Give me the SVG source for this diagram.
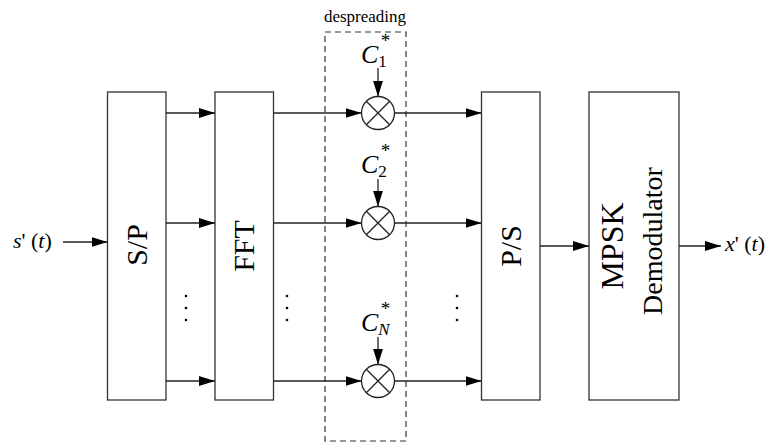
<svg xmlns="http://www.w3.org/2000/svg" width="774" height="445" viewBox="0 0 774 445">
<style>
.box{fill:#fff;stroke:#333;stroke-width:1.3}
.ln{stroke:#222;stroke-width:1.3;fill:none}
.t{font-family:"Liberation Serif","Times New Roman",serif;fill:#000}
.big{font-size:30px}
.c{font-size:26px;font-style:italic}
.sub{font-size:17px}
.ast{font-size:19px;font-style:normal}
.dot{fill:#000}
</style>
<defs>
<marker id="ah" markerWidth="16" markerHeight="10" refX="16" refY="5" orient="auto" markerUnits="userSpaceOnUse">
<path d="M0,0 L16,5 L0,10 Z" fill="#000"/>
</marker>
</defs>
<g id="despreading-box">
<rect x="325" y="32" width="81" height="409" fill="none" stroke="#333" stroke-width="1.2" stroke-dasharray="6,4"/>
<text class="t" x="365" y="22" font-size="17" text-anchor="middle">despreading</text>
</g>
<g id="input-label"><text class="t" x="13" y="248" font-size="22"><tspan font-style="italic">s</tspan>' (<tspan font-style="italic">t</tspan>)</text></g>
<g id="sp"><rect class="box" x="107.5" y="92" width="58.5" height="308"/><text class="t big" transform="translate(147,245) rotate(-90)" text-anchor="middle">S/P</text></g>
<g id="fft"><rect class="box" x="215" y="92" width="58.5" height="308"/><text class="t big" transform="translate(254,246) rotate(-90)" text-anchor="middle">FFT</text></g>
<g id="ps"><rect class="box" x="481.5" y="92" width="58.5" height="308"/><text class="t big" transform="translate(521,246) rotate(-90)" text-anchor="middle">P/S</text></g>
<g id="mpsk"><rect class="box" x="589" y="92" width="90" height="308"/>
<text class="t" font-size="32" transform="translate(623,246) rotate(-90)" text-anchor="middle">MPSK</text>
<text class="t" font-size="28" transform="translate(662,241) rotate(-90)" text-anchor="middle">Demodulator</text></g>
<g id="mult1"><circle cx="378" cy="113" r="16.5" fill="#fff" stroke="#222" stroke-width="1.3"/><path class="ln" d="M366.3,101.3 L389.7,124.7 M389.7,101.3 L366.3,124.7"/></g>
<g id="mult2"><circle cx="378" cy="223" r="16.5" fill="#fff" stroke="#222" stroke-width="1.3"/><path class="ln" d="M366.3,211.3 L389.7,234.7 M389.7,211.3 L366.3,234.7"/></g>
<g id="multN"><circle cx="378" cy="381" r="16.5" fill="#fff" stroke="#222" stroke-width="1.3"/><path class="ln" d="M366.3,369.3 L389.7,392.7 M389.7,369.3 L366.3,392.7"/></g>
<g id="c1"><text class="t c" x="361" y="63">C<tspan class="sub" font-style="normal" dy="4">1</tspan><tspan class="ast" dx="-6" dy="-20">*</tspan></text></g>
<g id="c2"><text class="t c" x="361" y="173">C<tspan class="sub" font-style="normal" dy="4">2</tspan><tspan class="ast" dx="-6" dy="-20">*</tspan></text></g>
<g id="cN"><text class="t c" x="361" y="331">C<tspan class="sub" dy="4">N</tspan><tspan class="ast" dx="-9" dy="-20">*</tspan></text></g>
<g id="output-label"><text class="t" x="725" y="251" font-size="22"><tspan font-style="italic">x</tspan>' (<tspan font-style="italic">t</tspan>)</text></g>
<g id="connectors">
<line class="ln" x1="63" y1="242" x2="107.5" y2="242" marker-end="url(#ah)"/>
<line class="ln" x1="166" y1="113" x2="215" y2="113" marker-end="url(#ah)"/>
<line class="ln" x1="166" y1="223" x2="215" y2="223" marker-end="url(#ah)"/>
<line class="ln" x1="166" y1="381" x2="215" y2="381" marker-end="url(#ah)"/>
<line class="ln" x1="273.5" y1="113" x2="361.5" y2="113" marker-end="url(#ah)"/>
<line class="ln" x1="273.5" y1="223" x2="361.5" y2="223" marker-end="url(#ah)"/>
<line class="ln" x1="273.5" y1="381" x2="361.5" y2="381" marker-end="url(#ah)"/>
<line class="ln" x1="394.5" y1="113" x2="481.5" y2="113" marker-end="url(#ah)"/>
<line class="ln" x1="394.5" y1="223" x2="481.5" y2="223" marker-end="url(#ah)"/>
<line class="ln" x1="394.5" y1="381" x2="481.5" y2="381" marker-end="url(#ah)"/>
<line class="ln" x1="378" y1="68" x2="378" y2="96.5" marker-end="url(#ah)"/>
<line class="ln" x1="378" y1="179" x2="378" y2="206.5" marker-end="url(#ah)"/>
<line class="ln" x1="378" y1="337" x2="378" y2="364.5" marker-end="url(#ah)"/>
<line class="ln" x1="540" y1="246" x2="589" y2="246" marker-end="url(#ah)"/>
<line class="ln" x1="679" y1="246" x2="721" y2="246" marker-end="url(#ah)"/>
</g>
<g id="dots">
<circle class="dot" cx="186" cy="296" r="1.3"/><circle class="dot" cx="186" cy="308" r="1.3"/><circle class="dot" cx="186" cy="320" r="1.3"/>
<circle class="dot" cx="287" cy="296" r="1.3"/><circle class="dot" cx="287" cy="308" r="1.3"/><circle class="dot" cx="287" cy="320" r="1.3"/>
<circle class="dot" cx="457" cy="296" r="1.3"/><circle class="dot" cx="457" cy="308" r="1.3"/><circle class="dot" cx="457" cy="320" r="1.3"/>
</g>
</svg>
